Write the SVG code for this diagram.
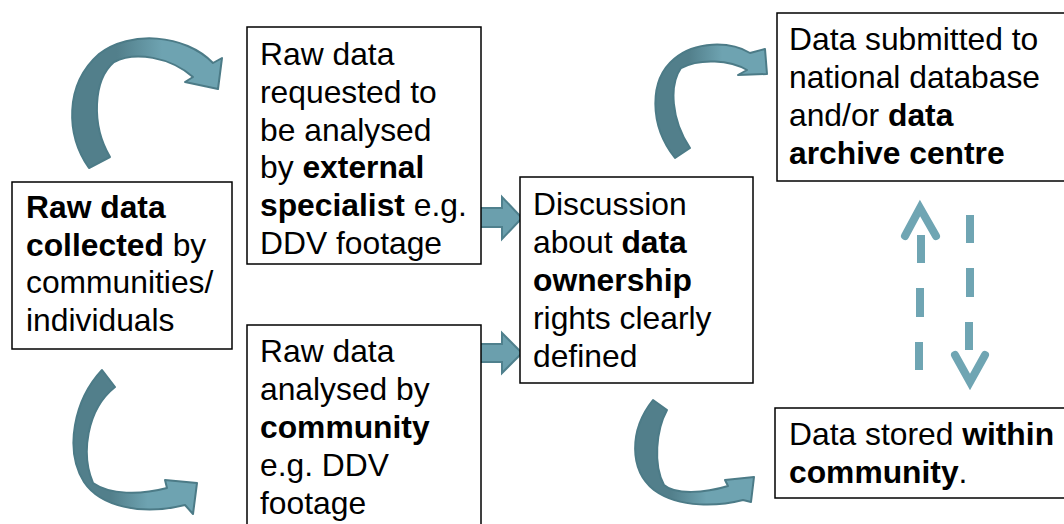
<svg xmlns="http://www.w3.org/2000/svg" width="1064" height="524" viewBox="0 0 1064 524">
<style>
.box{fill:#fff;stroke:#000;stroke-width:1.5}
.t{font-family:"Liberation Sans",Arial,sans-serif;font-size:31.8px;fill:#000}
.b{font-weight:bold}
.curve{stroke:#4c7b87;stroke-width:2;stroke-linejoin:round}
.block{fill:#6b9fad;stroke:#4f808d;stroke-width:2;stroke-linejoin:miter}
.dash{fill:none;stroke:#6fa5b3;stroke-width:8}
</style>
<defs>
<linearGradient id="g" x1="0" y1="0" x2="1" y2="0">
<stop offset="0.3" stop-color="#527f8b"/>
<stop offset="0.6" stop-color="#6ea3b1"/>
</linearGradient>
</defs>
<rect width="1064" height="524" fill="#fff"/>
<g id="connectors">
<path class="curve" fill="url(#g)" d="M89,168 C66,135 64,85 99,54 C130,30 185,34 213,63 L222,58 L218,89 L185,82 L193,77 C170,57 135,51 114,62 C93,80 91,125 110,157 Z"/>
<path class="curve" fill="url(#g)" d="M102,370 C74,400 64,450 84,482 C100,506 140,516 185,505 L193,514 L197,483 L165,480 L167,488 C140,495 110,495 93,483 C81,455 86,410 115,387 Z"/>
<path class="curve" fill="url(#g)" d="M675,158 C649,125 649,80 674,59 C695,41 730,41 750,53 L765,49 L767,74 L738,75 L747,70 C730,60 700,58 681,68 C669,85 671,120 690,148 Z"/>
<path class="curve" fill="url(#g)" d="M653,400 C629,430 629,470 654,490 C680,509 720,506 743,500 L751,502 L754,477 L725,480 L728,486 C705,493 675,495 664,485 C653,465 656,430 667,410 Z"/>
<path class="block" d="M479,208 L502,208 L502,197 L522,218 L502,239 L502,227 L479,227 Z"/>
<path class="block" d="M479,344 L502,344 L502,333 L522,353 L502,373 L502,362 L479,362 Z"/>
<g class="dash">
<line x1="921" y1="235" x2="921" y2="263"/>
<line x1="920" y1="288" x2="920" y2="317"/>
<line x1="919" y1="342" x2="919" y2="370"/>
<polyline points="905,236 920,208 936,236" stroke-linecap="round" stroke-linejoin="miter"/>
<line x1="970" y1="215" x2="970" y2="243"/>
<line x1="970" y1="268" x2="970" y2="297"/>
<line x1="969" y1="322" x2="969" y2="350"/>
<polyline points="955,355 970,382 985,355" stroke-linecap="round" stroke-linejoin="miter"/>
</g>
</g>
<g id="node-collected">
<rect class="box" x="12" y="182" width="220" height="167"/>
<text class="t"><tspan x="26" y="218" class="b">Raw data</tspan><tspan x="26" y="255.5"><tspan class="b">collected</tspan> by</tspan><tspan x="26" y="293">communities/</tspan><tspan x="26" y="330.5">individuals</tspan></text>
</g>
<g id="node-external">
<rect class="box" x="247" y="27" width="234" height="237"/>
<text class="t"><tspan x="260" y="65">Raw data</tspan><tspan x="260" y="102.8">requested to</tspan><tspan x="260" y="140.6">be analysed</tspan><tspan x="260" y="178.4">by <tspan class="b">external</tspan></tspan><tspan x="260" y="216.2"><tspan class="b">specialist</tspan> e.g.</tspan><tspan x="260" y="254">DDV footage</tspan></text>
</g>
<g id="node-community">
<rect class="box" x="247" y="325" width="234" height="210"/>
<text class="t"><tspan x="260" y="362">Raw data</tspan><tspan x="260" y="400">analysed by</tspan><tspan x="260" y="438" class="b">community</tspan><tspan x="260" y="476">e.g. DDV</tspan><tspan x="260" y="514">footage</tspan></text>
</g>
<g id="node-discussion">
<rect class="box" x="520" y="177" width="233" height="206"/>
<text class="t"><tspan x="533" y="215">Discussion</tspan><tspan x="533" y="253">about <tspan class="b">data</tspan></tspan><tspan x="533" y="291" class="b">ownership</tspan><tspan x="533" y="329">rights clearly</tspan><tspan x="533" y="367">defined</tspan></text>
</g>
<g id="node-archive">
<rect class="box" x="777" y="13" width="300" height="168"/>
<text class="t"><tspan x="789" y="50">Data submitted to</tspan><tspan x="789" y="88">national database</tspan><tspan x="789" y="126">and/or <tspan class="b">data</tspan></tspan><tspan x="789" y="164" class="b">archive centre</tspan></text>
</g>
<g id="node-stored">
<rect class="box" x="775" y="408" width="300" height="90"/>
<text class="t"><tspan x="789" y="445">Data stored <tspan class="b">within</tspan></tspan><tspan x="789" y="483"><tspan class="b">community</tspan>.</tspan></text>
</g>
</svg>
